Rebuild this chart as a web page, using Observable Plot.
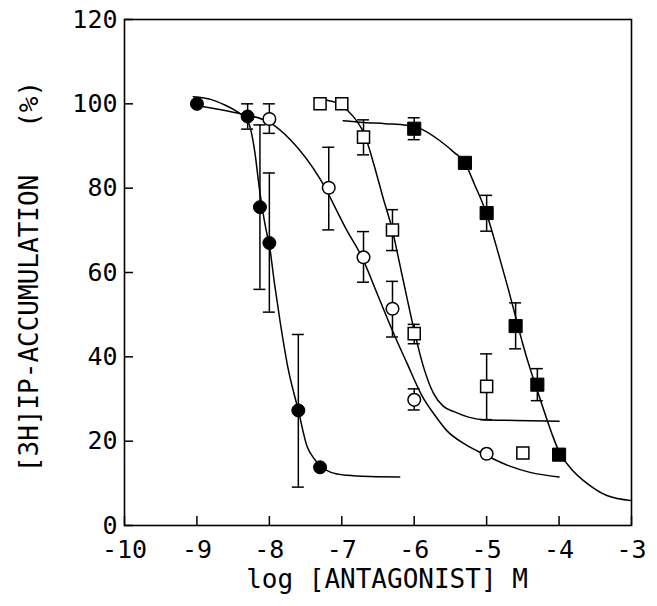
<!DOCTYPE html>
<html>
<head>
<meta charset="utf-8">
<script src="https://cdn.jsdelivr.net/npm/d3@7"></script>
<script src="https://cdn.jsdelivr.net/npm/@observablehq/plot@0.6"></script>
<style>
  html, body { margin: 0; padding: 0; background: #fff; }
  #chart svg { display: block; }
</style>
</head>
<body>
<div id="chart"></div>
<script>
// ---- axis ticks ----
const xTicks = [-10, -9, -8, -7, -6, -5, -4, -3];
const yTicks = [0, 20, 40, 60, 80, 100, 120];
const xLabel = "log [ANTAGONIST] M";
const yLabel = "[3H]IP-ACCUMULATION\u00a0\u00a0\u00a0(%)";

// ---- filled circles ----
const fcX  = [-9.0, -8.3, -8.13, -8.0, -7.6, -7.3];
const fcY  = [100, 97, 75.5, 67, 27.3, 13.8];
const fcLo = [null, 94, 56, 50.6, 9.1, null];
const fcHi = [null, 100, 95, 83.6, 45.3, null];
const fcCurveX = [-9.05, -8.8, -8.6, -8.45, -8.3, -8.2, -8.14, -8.1, -8.05, -8.0, -7.93, -7.85, -7.75, -7.6, -7.48, -7.38, -7.29, -7.15, -6.93, -6.6, -6.2];
const fcCurveY = [101.7, 101.0, 99.6, 98.2, 96.0, 88.5, 80.2, 75.5, 70.5, 66.5, 57.5, 48.2, 38.0, 27.3, 18.8, 15.8, 14.0, 12.6, 11.9, 11.6, 11.5];

// ---- open circles ----
const ocX  = [-8.0, -7.18, -6.7, -6.3, -6.0, -5.0];
const ocY  = [96.4, 80.1, 63.6, 51.4, 29.8, 17.0];
const ocLo = [93.0, 70.1, 57.7, 44.7, 27.4, null];
const ocHi = [100, 89.7, 69.7, 57.9, 32.4, null];
const ocCurveX = [-9.0, -8.5, -8.0, -7.7, -7.3, -6.93, -6.72, -6.5, -6.3, -6.1, -5.9, -5.7, -5.55, -5.3, -5.05, -4.7, -4.4, -4.0];
const ocCurveY = [99.6, 98.0, 95.6, 91.3, 82.2, 70.0, 63.6, 54.5, 46.2, 38.5, 31.0, 25.8, 22.5, 19.3, 17.0, 14.2, 12.6, 11.5];

// ---- open squares ----
const osX  = [-7.3, -7.0, -6.7, -6.3, -6.0, -5.0, -4.5];
const osY  = [100, 100, 92.1, 70.1, 45.5, 33.0, 17.2];
const osLo = [null, null, 87.9, 65.2, 43.1, 25.1, null];
const osHi = [null, null, 96.2, 74.9, 47.7, 40.7, null];
const osCurveX = [-7.28, -7.04, -6.92, -6.78, -6.69, -6.56, -6.42, -6.3, -6.21, -6.1, -6.0, -5.87, -5.73, -5.6, -5.45, -5.25, -5.05, -4.6, -4.0];
const osCurveY = [101.0, 100.0, 98.4, 95.6, 92.9, 85.8, 77.1, 70.0, 62.8, 54.0, 46.2, 37.5, 31.2, 28.3, 27.0, 25.7, 25.1, 24.9, 24.7];

// ---- filled squares ----
const fsX  = [-6.0, -5.3, -5.0, -4.6, -4.3, -4.0];
const fsY  = [94.1, 86.0, 74.1, 47.3, 33.4, 16.8];
const fsLo = [91.5, null, 69.8, 41.9, 29.6, null];
const fsHi = [96.7, null, 78.3, 52.8, 37.2, null];
const fsCurveX = [-6.98, -6.7, -6.4, -6.1, -5.9, -5.65, -5.45, -5.3, -5.17, -5.0, -4.83, -4.7, -4.6, -4.5, -4.4, -4.3, -4.2, -4.1, -4.0, -3.84, -3.6, -3.34, -3.0];
const fsCurveY = [96.0, 95.6, 95.3, 94.9, 94.0, 91.3, 88.5, 86.0, 81.0, 73.9, 64.0, 56.0, 49.5, 43.0, 37.2, 32.0, 26.8, 21.8, 17.5, 13.6, 9.8, 7.1, 5.9];

// ---- build tables ----
const pts = (xs, ys) => xs.map((x, i) => ({x, y: ys[i]}));
const errs = (xs, lo, hi) => xs.map((x, i) => ({x, lo: lo[i], hi: hi[i]})).filter(d => d.lo != null);

const curves = [
  pts(fcCurveX, fcCurveY), pts(ocCurveX, ocCurveY),
  pts(osCurveX, osCurveY), pts(fsCurveX, fsCurveY)
];
const allErr = [
  ...errs(fcX, fcLo, fcHi), ...errs(ocX, ocLo, ocHi),
  ...errs(osX, osLo, osHi), ...errs(fsX, fsLo, fsHi)
];

const W = 657, H = 606;
const mL = 124, mR = 26, mT = 19, mB = 81;
const frameW = W - mL - mR, frameH = H - mT - mB;
const tickLen = 9, capHalf = 6;

const chart = Plot.plot({
  width: W, height: H,
  marginLeft: mL, marginRight: mR, marginTop: mT, marginBottom: mB,
  x: {domain: [-10, -3]},
  y: {domain: [0, 120]},
  style: {fontFamily: "'DejaVu Sans Mono', monospace", fontSize: "25px", color: "black", background: "white"},
  marks: [
    Plot.frame({stroke: "black", strokeWidth: 1.6}),
    Plot.tickX(xTicks, {x: d => d, insetTop: frameH - tickLen, stroke: "black", strokeWidth: 1.5}),
    Plot.tickY(yTicks, {y: d => d, insetRight: frameW - tickLen, stroke: "black", strokeWidth: 1.5}),
    Plot.axisX(xTicks, {tickSize: 0, tickPadding: 15, tickFormat: d => String(d), label: null, fontSize: 25}),
    Plot.axisY(yTicks, {tickSize: 0, tickPadding: 7, tickFormat: d => String(d), label: null, fontSize: 25}),
    ...curves.map(c => Plot.line(c, {x: "x", y: "y", curve: "monotone-x", stroke: "black", strokeWidth: 1.5})),
    Plot.ruleX(allErr, {x: "x", y1: "lo", y2: "hi", stroke: "black", strokeWidth: 1.5}),
    Plot.ruleY(allErr, {y: "lo", x1: "x", x2: "x", insetLeft: -capHalf, insetRight: -capHalf, stroke: "black", strokeWidth: 1.5}),
    Plot.ruleY(allErr, {y: "hi", x1: "x", x2: "x", insetLeft: -capHalf, insetRight: -capHalf, stroke: "black", strokeWidth: 1.5}),
    Plot.dot(pts(osX, osY), {x: "x", y: "y", symbol: "square", r: 6.8, fill: "white", stroke: "black", strokeWidth: 1.5}),
    Plot.dot(pts(fsX, fsY), {x: "x", y: "y", symbol: "square", r: 7.4, fill: "black", stroke: "black", strokeWidth: 1}),
    Plot.dot(pts(ocX, ocY), {x: "x", y: "y", symbol: "circle", r: 6.3, fill: "white", stroke: "black", strokeWidth: 1.5}),
    Plot.dot(pts(fcX, fcY), {x: "x", y: "y", symbol: "circle", r: 6.5, fill: "black", stroke: "black", strokeWidth: 1}),
    Plot.text([xLabel], {frameAnchor: "bottom", textAnchor: "middle", dx: 9, dy: 62, fontSize: 26, fill: "black"}),
    Plot.text([yLabel], {frameAnchor: "left", textAnchor: "middle", rotate: -90, dx: -95, dy: 4, fontSize: 26, fill: "black"})
  ]
});
document.getElementById("chart").appendChild(chart);
</script>
</body>
</html>
